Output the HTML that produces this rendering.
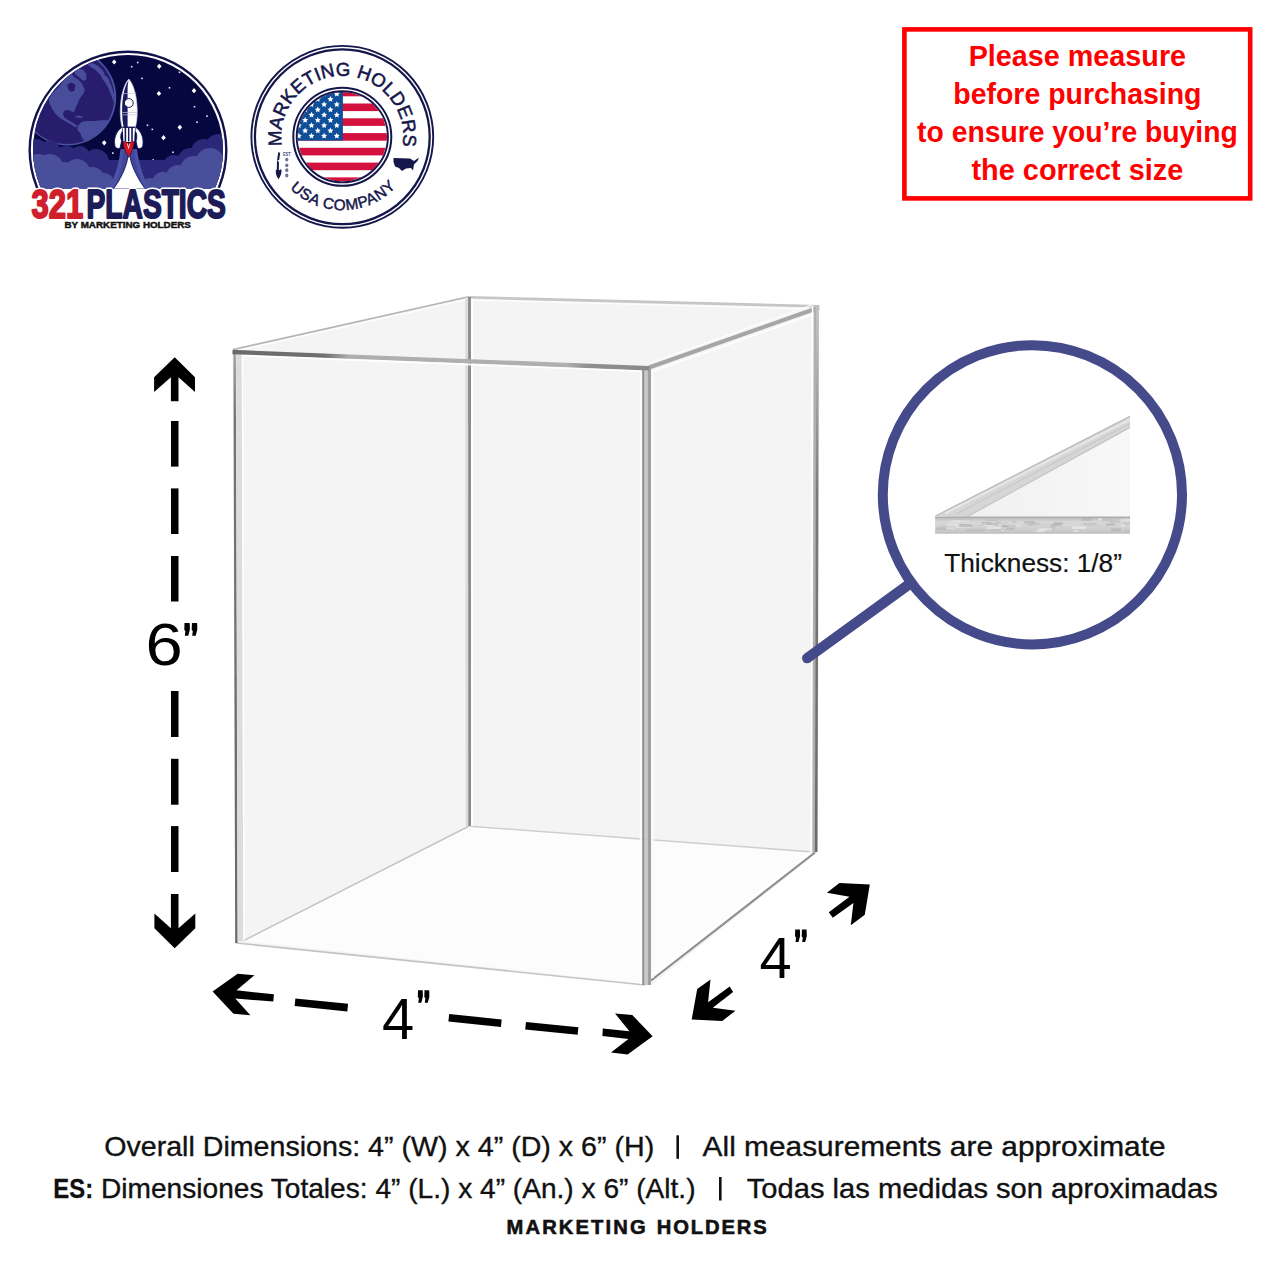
<!DOCTYPE html>
<html><head><meta charset="utf-8"><style>
html,body{margin:0;padding:0;background:#fff;}
body{width:1280px;height:1280px;overflow:hidden;position:relative;font-family:"Liberation Sans",sans-serif;}
svg{position:absolute;left:0;top:0;}
</style></head><body>
<svg width="1280" height="1280" viewBox="0 0 1280 1280">
<rect width="1280" height="1280" fill="#fff"/>
<polygon points="232.5,349.7 467.0,297.0 819.5,306.5 818.0,852.0 651.0,985.0 235.3,943.0" fill="#f4f4f4"/>
<polygon points="243.0,941.0 645.0,984.0 813.0,852.5 468.8,826.5" fill="#fcfcfc"/>
<line x1="243" y1="941" x2="468.8" y2="826.3" stroke="#c6c6c6" stroke-width="1.6"/>
<line x1="244" y1="942.5" x2="469.5" y2="828" stroke="#ffffff" stroke-width="1"/>
<line x1="470" y1="826.2" x2="813" y2="852" stroke="#cfcfcf" stroke-width="1.6"/>
<line x1="470" y1="828" x2="812" y2="854" stroke="#ffffff" stroke-width="1"/>
<line x1="236" y1="943" x2="645" y2="985" stroke="#c4c4c4" stroke-width="1.6"/>
<line x1="651" y1="980.5" x2="815" y2="852.5" stroke="#8e8e8e" stroke-width="2.2"/>
<line x1="650" y1="977.5" x2="812" y2="851" stroke="#ffffff" stroke-width="1.4"/>
<line x1="233" y1="349.5" x2="467.5" y2="297" stroke="#b4b4b4" stroke-width="1.7"/>
<line x1="238" y1="350.5" x2="467.5" y2="299.5" stroke="#ffffff" stroke-width="1.2"/>
<line x1="467" y1="297.3" x2="819.5" y2="306.3" stroke="#c6c6c6" stroke-width="2.6"/>
<line x1="472" y1="300" x2="814" y2="309" stroke="#ffffff" stroke-width="1"/>
<line x1="649" y1="367.5" x2="819" y2="307.5" stroke="#a6a6a6" stroke-width="4"/>
<line x1="652" y1="371.5" x2="814" y2="314" stroke="#ffffff" stroke-width="1.4"/>
<line x1="650" y1="363" x2="812" y2="305" stroke="#ffffff" stroke-width="1.2"/>
<line x1="466.6" y1="299" x2="467.0" y2="826" stroke="#dcdcdc" stroke-width="2.8"/>
<line x1="469.5" y1="297" x2="469.7" y2="826" stroke="#8c8c8c" stroke-width="2.9"/>
<line x1="472" y1="299" x2="472" y2="826" stroke="#ffffff" stroke-width="1.8"/>
<defs><linearGradient id="gbr" x1="0" y1="306" x2="0" y2="852" gradientUnits="userSpaceOnUse"><stop offset="0" stop-color="#c4c4c4"/><stop offset="0.35" stop-color="#7a7a7a"/><stop offset="1" stop-color="#6a6a6a"/></linearGradient></defs>
<line x1="812.6" y1="306" x2="811.3" y2="852" stroke="#ffffff" stroke-width="1.6"/>
<line x1="815.2" y1="307" x2="813.8" y2="852" stroke="#b0b0b0" stroke-width="3"/>
<line x1="817.6" y1="306" x2="816.2" y2="852" stroke="url(#gbr)" stroke-width="2.6"/>
<defs><linearGradient id="gle" x1="0" y1="350" x2="0" y2="943" gradientUnits="userSpaceOnUse"><stop offset="0" stop-color="#a0a0a0"/><stop offset="0.12" stop-color="#747474"/><stop offset="1" stop-color="#6a6a6a"/></linearGradient></defs>
<line x1="234.6" y1="350" x2="236.4" y2="943" stroke="url(#gle)" stroke-width="2.4"/>
<line x1="238.9" y1="353" x2="240.5" y2="941" stroke="#dcdcdc" stroke-width="5.6"/>
<line x1="242.5" y1="354" x2="244" y2="941" stroke="#ffffff" stroke-width="1.4"/>
<line x1="640.8" y1="370" x2="640.8" y2="984" stroke="#ffffff" stroke-width="2"/>
<line x1="643.4" y1="366" x2="643.4" y2="985" stroke="#8c8c8c" stroke-width="2.3"/>
<line x1="646.0" y1="368" x2="646.0" y2="985" stroke="#c8c8c8" stroke-width="3"/>
<line x1="649.3" y1="366" x2="649.3" y2="985" stroke="#a0a0a0" stroke-width="3.4"/>
<line x1="652.6" y1="372" x2="652.6" y2="978" stroke="#fafafa" stroke-width="2.4"/>
<defs><linearGradient id="gtf" x1="232.5" y1="0" x2="649" y2="0" gradientUnits="userSpaceOnUse"><stop offset="0" stop-color="#6a6a6a"/><stop offset="0.22" stop-color="#707070"/><stop offset="0.28" stop-color="#aeaeae"/><stop offset="0.8" stop-color="#b0b0b0"/><stop offset="0.86" stop-color="#8e8e8e"/><stop offset="1" stop-color="#8a8a8a"/></linearGradient></defs>
<line x1="232.5" y1="352" x2="649" y2="368.3" stroke="url(#gtf)" stroke-width="4.4"/>
<line x1="244" y1="355.8" x2="640" y2="371.2" stroke="#ffffff" stroke-width="1.6"/>
<polygon points="174.7,357.2 195.0,377.2 195.0,392.0 178.5,377.2 178.5,401.2 170.9,401.2 170.9,377.2 154.1,392.0 154.1,377.2" fill="#000"/>
<polygon points="174.7,948.3 154.4,928.3 154.4,913.5 170.9,928.3 170.9,894.0 178.5,894.0 178.5,928.3 195.3,913.5 195.3,928.3" fill="#000"/>
<rect x="171" y="421.0" width="7.5" height="45.6" fill="#000"/>
<rect x="171" y="488.4" width="7.5" height="45.6" fill="#000"/>
<rect x="171" y="556.0" width="7.5" height="45.5" fill="#000"/>
<rect x="171" y="691.0" width="7.5" height="46.0" fill="#000"/>
<rect x="171" y="758.8" width="7.5" height="45.9" fill="#000"/>
<rect x="171" y="826.1" width="7.5" height="45.9" fill="#000"/>
<polygon points="212.6,991.5 237.6,973.8 254.4,975.2 236.6,990.3 273.9,994.3 273.3,1001.6 235.3,998.6 250.4,1015.2 233.5,1013.8" fill="#000"/>
<polygon points="652.6,1036.3 632.3,1015.0 615.0,1013.4 629.4,1031.3 602.8,1028.5 602.4,1035.9 628.4,1038.9 611.0,1052.6 627.6,1054.6" fill="#000"/>
<line x1="295.0" y1="1002.2" x2="347.7" y2="1007.6" stroke="#000" stroke-width="7.6"/>
<line x1="448.8" y1="1017.8" x2="501.3" y2="1023.2" stroke="#000" stroke-width="7.6"/>
<line x1="525.6" y1="1025.7" x2="578.0" y2="1031.0" stroke="#000" stroke-width="7.6"/>
<polygon points="869.8,884.5 839.4,883.1 826.9,892.8 849.5,896.7 828.8,912.3 832.8,917.8 853.4,903.0 850.8,925.3 864.8,914.7" fill="#000"/>
<polygon points="691.7,1019.4 697.2,988.9 710.5,979.5 708.1,1002.2 729.7,986.6 733.1,992.0 712.8,1007.7 735.5,1010.8 722.2,1020.9" fill="#000"/>
<g transform="translate(145.6,665) scale(1.12,1)"><text font-family="Liberation Sans, sans-serif" font-size="59.8" fill="#000">6</text></g>
<polygon points="184.5,623.1 189.7,623.1 189.9,629.4 188.3,635.7 184.8,635.7 185.4,630.9 184.3,630.0" fill="#000"/><polygon points="191.9,623.1 197.1,623.1 197.3,629.4 195.7,635.7 192.2,635.7 192.8,630.9 191.7,630.0" fill="#000"/>
<text x="382" y="1038.6" font-family="Liberation Sans, sans-serif" font-size="57.8" fill="#000">4</text>
<polygon points="418.0,990.3 422.7,990.3 422.9,996.5 421.3,1002.8 418.3,1002.8 418.9,998.0 417.8,997.2" fill="#000"/><polygon points="424.5,990.3 429.2,990.3 429.4,996.5 427.8,1002.8 424.8,1002.8 425.4,998.0 424.3,997.2" fill="#000"/>
<text x="759.6" y="977.8" font-family="Liberation Sans, sans-serif" font-size="57.8" fill="#000">4</text>
<polygon points="795.2,929.6 799.9,929.6 800.1,935.9 798.5,942.1 795.5,942.1 796.1,937.4 795.0,936.5" fill="#000"/><polygon points="801.9,929.6 806.6,929.6 806.8,935.9 805.2,942.1 802.2,942.1 802.8,937.4 801.7,936.5" fill="#000"/>
<line x1="807.2" y1="658.1" x2="915" y2="580" stroke="#454a8b" stroke-width="10.4" stroke-linecap="round"/>
<circle cx="1032.4" cy="494.8" r="149.6" fill="#fff" stroke="#454a8b" stroke-width="10"/>
<defs><linearGradient id="gtri" x1="967" y1="0" x2="1130" y2="0" gradientUnits="userSpaceOnUse"><stop offset="0" stop-color="#f0f0f0"/><stop offset="1" stop-color="#f8f8f8"/></linearGradient><linearGradient id="gstrip" x1="0" y1="517" x2="0" y2="533.5" gradientUnits="userSpaceOnUse"><stop offset="0" stop-color="#b8b8b8"/><stop offset="0.3" stop-color="#d8d8d8"/><stop offset="0.7" stop-color="#cfcfcf"/><stop offset="1" stop-color="#c4c4c4"/></linearGradient></defs>
<polygon points="967.0,517.0 1130.0,427.7 1130.0,517.0" fill="url(#gtri)"/>
<polygon points="935.1,516.0 1130.0,415.9 1130.0,427.7 967.0,517.0" fill="#d6d6d6"/>
<line x1="945" y1="513.5" x2="1130" y2="419.5" stroke="#e6e6e6" stroke-width="2"/>
<line x1="955" y1="514.5" x2="1130" y2="423.5" stroke="#c6c6c6" stroke-width="1"/>
<line x1="935.5" y1="516" x2="1130" y2="416.3" stroke="#bdbdbd" stroke-width="1.4"/>
<line x1="967" y1="516.8" x2="1130" y2="427.4" stroke="#c4c4c4" stroke-width="1.2"/>
<rect x="935.1" y="516.7" width="194.9" height="16.8" fill="url(#gstrip)"/>
<rect x="980.7" y="522.3" width="10.2" height="2.0" fill="#a8a8a8" opacity="0.7"/>
<rect x="1045.9" y="529.2" width="8.6" height="2.1" fill="#c0c0c0" opacity="0.7"/>
<rect x="980.0" y="523.1" width="13.0" height="3.0" fill="#ececec" opacity="0.7"/>
<rect x="1011.0" y="520.4" width="4.8" height="2.7" fill="#c0c0c0" opacity="0.7"/>
<rect x="1009.6" y="528.5" width="4.9" height="0.8" fill="#c0c0c0" opacity="0.7"/>
<rect x="943.6" y="527.8" width="6.2" height="2.5" fill="#c0c0c0" opacity="0.7"/>
<rect x="1072.1" y="526.3" width="14.1" height="2.7" fill="#ececec" opacity="0.7"/>
<rect x="1073.8" y="530.0" width="4.6" height="2.1" fill="#e4e4e4" opacity="0.7"/>
<rect x="954.0" y="520.5" width="14.6" height="1.1" fill="#ececec" opacity="0.7"/>
<rect x="1083.5" y="522.7" width="13.0" height="2.7" fill="#c0c0c0" opacity="0.7"/>
<rect x="1002.2" y="525.0" width="13.9" height="2.1" fill="#a8a8a8" opacity="0.7"/>
<rect x="1109.5" y="521.5" width="10.3" height="0.9" fill="#a8a8a8" opacity="0.7"/>
<rect x="966.5" y="529.4" width="13.9" height="2.7" fill="#c0c0c0" opacity="0.7"/>
<rect x="955.3" y="525.6" width="14.9" height="2.2" fill="#e4e4e4" opacity="0.7"/>
<rect x="989.6" y="529.5" width="14.9" height="0.9" fill="#b4b4b4" opacity="0.7"/>
<rect x="1000.9" y="530.1" width="3.2" height="0.9" fill="#ececec" opacity="0.7"/>
<rect x="1081.6" y="518.0" width="10.4" height="2.7" fill="#b4b4b4" opacity="0.7"/>
<rect x="1007.3" y="524.6" width="14.1" height="2.1" fill="#e4e4e4" opacity="0.7"/>
<rect x="1031.5" y="521.2" width="3.9" height="3.0" fill="#c0c0c0" opacity="0.7"/>
<rect x="1037.3" y="529.3" width="6.5" height="2.9" fill="#e4e4e4" opacity="0.7"/>
<rect x="965.2" y="529.7" width="6.8" height="0.9" fill="#bcbcbc" opacity="0.7"/>
<rect x="1105.9" y="523.7" width="9.2" height="1.6" fill="#a8a8a8" opacity="0.7"/>
<rect x="1100.2" y="518.8" width="14.7" height="2.3" fill="#c0c0c0" opacity="0.7"/>
<rect x="987.0" y="526.7" width="14.2" height="2.2" fill="#ececec" opacity="0.7"/>
<rect x="1121.3" y="524.7" width="3.1" height="1.9" fill="#ececec" opacity="0.7"/>
<rect x="1123.1" y="522.6" width="6.9" height="1.5" fill="#bcbcbc" opacity="0.7"/>
<rect x="946.9" y="523.5" width="11.2" height="2.2" fill="#e4e4e4" opacity="0.7"/>
<rect x="1051.2" y="524.2" width="10.1" height="1.4" fill="#a8a8a8" opacity="0.7"/>
<rect x="939.5" y="525.9" width="6.6" height="1.6" fill="#c0c0c0" opacity="0.7"/>
<rect x="996.3" y="521.7" width="7.4" height="1.6" fill="#c0c0c0" opacity="0.7"/>
<rect x="985.7" y="518.8" width="12.8" height="2.5" fill="#c0c0c0" opacity="0.7"/>
<rect x="1065.4" y="524.5" width="10.8" height="1.1" fill="#e4e4e4" opacity="0.7"/>
<rect x="980.9" y="523.5" width="11.4" height="1.2" fill="#b4b4b4" opacity="0.7"/>
<rect x="1049.6" y="525.7" width="5.7" height="2.9" fill="#bcbcbc" opacity="0.7"/>
<rect x="950.7" y="520.2" width="9.8" height="2.4" fill="#e4e4e4" opacity="0.7"/>
<rect x="978.3" y="524.9" width="5.3" height="1.1" fill="#c0c0c0" opacity="0.7"/>
<rect x="970.4" y="528.5" width="10.7" height="1.4" fill="#c0c0c0" opacity="0.7"/>
<rect x="1001.1" y="521.6" width="12.5" height="1.1" fill="#e4e4e4" opacity="0.7"/>
<rect x="1023.8" y="521.2" width="9.8" height="2.2" fill="#b4b4b4" opacity="0.7"/>
<rect x="1110.4" y="517.6" width="14.3" height="1.1" fill="#c0c0c0" opacity="0.7"/>
<rect x="1123.0" y="530.1" width="7.0" height="1.8" fill="#bcbcbc" opacity="0.7"/>
<rect x="941.6" y="527.4" width="12.0" height="1.8" fill="#e4e4e4" opacity="0.7"/>
<rect x="1038.8" y="528.0" width="13.3" height="2.8" fill="#e4e4e4" opacity="0.7"/>
<rect x="958.3" y="518.0" width="12.6" height="1.3" fill="#c0c0c0" opacity="0.7"/>
<rect x="1111.0" y="528.5" width="9.9" height="2.8" fill="#b4b4b4" opacity="0.7"/>
<rect x="1026.9" y="524.5" width="5.9" height="1.1" fill="#b4b4b4" opacity="0.7"/>
<rect x="1035.2" y="530.0" width="10.3" height="1.7" fill="#e4e4e4" opacity="0.7"/>
<rect x="959.3" y="524.0" width="12.7" height="2.9" fill="#b4b4b4" opacity="0.7"/>
<rect x="1002.3" y="524.9" width="12.8" height="1.2" fill="#bcbcbc" opacity="0.7"/>
<rect x="981.0" y="529.6" width="4.5" height="1.4" fill="#b4b4b4" opacity="0.7"/>
<rect x="1028.1" y="522.7" width="12.1" height="2.1" fill="#bcbcbc" opacity="0.7"/>
<rect x="986.5" y="523.0" width="8.7" height="2.0" fill="#b4b4b4" opacity="0.7"/>
<rect x="1098.3" y="518.1" width="3.6" height="2.5" fill="#ececec" opacity="0.7"/>
<rect x="1120.7" y="518.6" width="9.0" height="2.7" fill="#e4e4e4" opacity="0.7"/>
<rect x="965.3" y="522.9" width="7.7" height="1.0" fill="#e4e4e4" opacity="0.7"/>
<rect x="1004.1" y="522.0" width="4.5" height="1.2" fill="#c0c0c0" opacity="0.7"/>
<rect x="936.2" y="527.5" width="9.8" height="2.4" fill="#b4b4b4" opacity="0.7"/>
<rect x="1006.4" y="527.6" width="7.6" height="2.1" fill="#b4b4b4" opacity="0.7"/>
<rect x="1053.9" y="522.4" width="9.0" height="1.7" fill="#a8a8a8" opacity="0.7"/>
<rect x="995.3" y="522.6" width="3.2" height="2.9" fill="#bcbcbc" opacity="0.7"/>
<line x1="935.1" y1="517.2" x2="1130" y2="517.2" stroke="#a9a9a9" stroke-width="1"/>
<line x1="935.1" y1="533" x2="1130" y2="533" stroke="#bdbdbd" stroke-width="1"/>
<text x="944.3" y="571.6" font-family="Liberation Sans, sans-serif" font-size="25" fill="#111" stroke="#111" stroke-width="0.2" textLength="177.6" lengthAdjust="spacingAndGlyphs">Thickness: 1/8&#8221;</text>
<rect x="904.4" y="29.4" width="345.8" height="169" fill="none" stroke="#ff0000" stroke-width="4.6"/>
<text x="1077.4" y="65.5" font-family="Liberation Sans, sans-serif" font-weight="bold" font-size="29" fill="#ff0000" text-anchor="middle" textLength="217.4" lengthAdjust="spacingAndGlyphs">Please measure</text>
<text x="1077.4" y="103.5" font-family="Liberation Sans, sans-serif" font-weight="bold" font-size="29" fill="#ff0000" text-anchor="middle" textLength="248.2" lengthAdjust="spacingAndGlyphs">before purchasing</text>
<text x="1077.4" y="142.1" font-family="Liberation Sans, sans-serif" font-weight="bold" font-size="29" fill="#ff0000" text-anchor="middle" textLength="320.6" lengthAdjust="spacingAndGlyphs">to ensure you&#8217;re buying</text>
<text x="1077.4" y="180.3" font-family="Liberation Sans, sans-serif" font-weight="bold" font-size="29" fill="#ff0000" text-anchor="middle" textLength="211.8" lengthAdjust="spacingAndGlyphs">the correct size</text>
<text x="104.2" y="1156" font-family="Liberation Sans, sans-serif" font-size="27.6" fill="#111" stroke="#111" stroke-width="0.35" lengthAdjust="spacingAndGlyphs" textLength="550">Overall Dimensions: 4&#8221; (W) x 4&#8221; (D) x 6&#8221; (H)</text>
<rect x="676.4" y="1135.3" width="2.6" height="23.5" fill="#111"/>
<text x="702.6" y="1156" font-family="Liberation Sans, sans-serif" font-size="27.6" fill="#111" stroke="#111" stroke-width="0.35" lengthAdjust="spacingAndGlyphs" textLength="463">All measurements are approximate</text>
<text x="53.3" y="1197.6" font-family="Liberation Sans, sans-serif" font-size="27.6" font-weight="bold" fill="#111" stroke="#111" stroke-width="0.3" textLength="39.8" lengthAdjust="spacingAndGlyphs">ES:</text>
<text x="101" y="1197.6" font-family="Liberation Sans, sans-serif" font-size="27.6" fill="#111" stroke="#111" stroke-width="0.35" lengthAdjust="spacingAndGlyphs" textLength="594.5">Dimensiones Totales: 4&#8221; (L.) x 4&#8221; (An.) x 6&#8221; (Alt.)</text>
<rect x="719" y="1177" width="2.6" height="23.5" fill="#111"/>
<text x="746.8" y="1197.6" font-family="Liberation Sans, sans-serif" font-size="27.6" fill="#111" stroke="#111" stroke-width="0.35" lengthAdjust="spacingAndGlyphs" textLength="471">Todas las medidas son aproximadas</text>
<text x="506.6" y="1234" font-family="Liberation Sans, sans-serif" font-size="20.2" font-weight="bold" fill="#111" stroke="#111" stroke-width="0.6" textLength="139" lengthAdjust="spacing">MARKETING</text>
<text x="656.8" y="1234" font-family="Liberation Sans, sans-serif" font-size="20.2" font-weight="bold" fill="#111" stroke="#111" stroke-width="0.6" textLength="110" lengthAdjust="spacing">HOLDERS</text>
<defs><clipPath id="l1c"><circle cx="128" cy="150" r="95"/></clipPath>
<clipPath id="l1cut"><rect x="0" y="0" width="240" height="188.5"/></clipPath></defs>
<g clip-path="url(#l1cut)">
<circle cx="128" cy="150" r="98.3" fill="none" stroke="#12124a" stroke-width="2.4"/>
<circle cx="128" cy="150" r="95" fill="#070740"/>
<g clip-path="url(#l1c)">
<circle cx="67.8" cy="97.1" r="48.4" fill="#4c55a2"/>
<circle cx="67.4" cy="97.0" r="47" fill="#271d6c"/>
<defs><clipPath id="earthc"><circle cx="67.6" cy="97.2" r="47"/></clipPath></defs><g clip-path="url(#earthc)">
<polygon points="48.9,98.8 52.3,93.6 58.2,87.6 64.1,79.5 68.6,75.0 71.5,73.5 74.5,77.3 78.2,79.5 81.9,83.2 83.4,86.9 84.9,89.9 83.4,93.6 81.2,96.5 79.0,100.3 77.5,104.0 75.3,108.4 74.5,111.4 72.3,112.1 68.6,109.9 64.9,110.6 63.0,113.6 64.1,117.3 68.6,120.3 73.8,123.2 77.5,126.2 75.3,127.3 70.1,124.0 64.9,121.0 59.7,118.1 55.2,113.6 51.5,107.7 49.3,103.2" fill="#474d9a"/>
<polygon points="67.1,84.7 71.5,82.4 75.3,84.7 74.5,90.6 71.5,92.1 68.6,89.9" fill="#271d6c"/>
<polygon points="73.8,70.6 77.5,68.7 83.4,69.8 86.4,74.3 86.4,79.5 83.4,81.0 79.0,77.3 75.3,74.3" fill="#474d9a"/>
<polygon points="77.5,126.2 81.9,121.8 87.9,121.0 95.3,121.0 101.2,120.3 107.2,120.3 111.6,121.0 108.6,129.2 96.8,138.1 85.6,142.5 81.9,138.1 80.4,133.6 77.5,129.9" fill="#474d9a"/>
<polygon points="74.5,116.2 79.0,115.5 83.4,116.9 81.9,118.1 77.5,117.7" fill="#474d9a"/>
<polygon points="86.4,63.2 93.1,63.2 98.2,66.1 102.7,70.6 106.4,75.8 108.6,79.5 111.6,86.2 113.8,93.6 115.3,101.0 113.8,102.5 111.6,96.5 108.6,88.4 105.7,83.2 102.7,79.5 100.5,75.0 95.3,69.8 89.3,66.1" fill="#474d9a"/>
<polygon points="103.4,71.3 106.4,73.5 107.2,76.5 104.9,75.8" fill="#271d6c"/>
</g>
<path d="M114.2,59.4 l2.3,2.6 l-2.3,2.6 l-2.3,-2.6 Z" fill="#fff"/>
<path d="M159.2,63.7 l2.3,2.6 l-2.3,2.6 l-2.3,-2.6 Z" fill="#fff"/>
<path d="M158.9,90.9 l2.3,2.6 l-2.3,2.6 l-2.3,-2.6 Z" fill="#fff"/>
<path d="M194,88.1 l2.3,2.6 l-2.3,2.6 l-2.3,-2.6 Z" fill="#fff"/>
<path d="M179.8,124.7 l2.3,2.6 l-2.3,2.6 l-2.3,-2.6 Z" fill="#fff"/>
<path d="M163.5,135.1 l2.3,2.6 l-2.3,2.6 l-2.3,-2.6 Z" fill="#fff"/>
<path d="M104.2,140.2 l2.3,2.6 l-2.3,2.6 l-2.3,-2.6 Z" fill="#fff"/>
<rect x="130.9" y="65.9" width="1.6" height="1.6" fill="#e8e8f4"/>
<rect x="136.9" y="61.7" width="1.6" height="1.6" fill="#e8e8f4"/>
<rect x="141.2" y="77.6" width="1.6" height="1.6" fill="#e8e8f4"/>
<rect x="178.7" y="71.5" width="1.6" height="1.6" fill="#e8e8f4"/>
<rect x="168.7" y="87" width="1.6" height="1.6" fill="#e8e8f4"/>
<rect x="193.7" y="105.9" width="1.6" height="1.6" fill="#e8e8f4"/>
<rect x="206.2" y="115.4" width="1.6" height="1.6" fill="#e8e8f4"/>
<rect x="196.2" y="121.4" width="1.6" height="1.6" fill="#e8e8f4"/>
<rect x="146.7" y="124.5" width="1.6" height="1.6" fill="#e8e8f4"/>
<rect x="151.5" y="128.6" width="1.6" height="1.6" fill="#e8e8f4"/>
<rect x="197.1" y="141.5" width="1.6" height="1.6" fill="#e8e8f4"/>
<rect x="172.2" y="151.5" width="1.6" height="1.6" fill="#e8e8f4"/>
<rect x="152.4" y="159.2" width="1.6" height="1.6" fill="#e8e8f4"/>
<rect x="112" y="152.3" width="1.6" height="1.6" fill="#e8e8f4"/>
<rect x="81.9" y="153.2" width="1.6" height="1.6" fill="#e8e8f4"/>
<circle cx="36" cy="152" r="13" fill="#2b287a"/>
<circle cx="50" cy="150" r="10" fill="#2b287a"/>
<circle cx="66" cy="160" r="14" fill="#2b287a"/>
<circle cx="80" cy="156" r="10" fill="#2b287a"/>
<circle cx="96" cy="162" r="13" fill="#2b287a"/>
<circle cx="108" cy="170" r="10" fill="#2b287a"/>
<circle cx="148" cy="178" r="10" fill="#2b287a"/>
<circle cx="160" cy="170" r="10" fill="#2b287a"/>
<circle cx="174" cy="166" r="11" fill="#2b287a"/>
<circle cx="190" cy="160" r="12" fill="#2b287a"/>
<circle cx="204" cy="152" r="13" fill="#2b287a"/>
<circle cx="218" cy="146" r="12" fill="#2b287a"/>
<circle cx="225" cy="160" r="14" fill="#2b287a"/>
<rect x="28" y="160" width="200" height="30" fill="#2b287a"/>
<circle cx="212" cy="182" r="11" fill="#4a4f9c"/>
<circle cx="60" cy="186" r="10" fill="#4a4f9c"/>
<circle cx="48" cy="184" r="9" fill="#4a4f9c"/>
<circle cx="120" cy="188" r="6" fill="#4a4f9c"/>
<circle cx="38" cy="170" r="16" fill="#4a4f9c"/>
<circle cx="50" cy="167" r="13" fill="#4a4f9c"/>
<circle cx="64" cy="176" r="14" fill="#4a4f9c"/>
<circle cx="77" cy="172" r="13" fill="#4a4f9c"/>
<circle cx="92" cy="180" r="13" fill="#4a4f9c"/>
<circle cx="104" cy="183" r="10" fill="#4a4f9c"/>
<circle cx="150" cy="190" r="12" fill="#4a4f9c"/>
<circle cx="163" cy="183" r="11" fill="#4a4f9c"/>
<circle cx="178" cy="177" r="12" fill="#4a4f9c"/>
<circle cx="194" cy="170" r="14" fill="#4a4f9c"/>
<circle cx="210" cy="162" r="14" fill="#4a4f9c"/>
<circle cx="224" cy="168" r="12" fill="#4a4f9c"/>
<rect x="28" y="182" width="200" height="10" fill="#4a4f9c"/>
<path d="M120.5,149 C119,165 114,178 108.5,190 L149.5,190 C144,178 139,165 137,149 Z" fill="#4b52a5"/>
<path d="M123.5,150 C122.5,164 119,176 114.5,190 L144,190 C139.5,176 135,164 134,150 Z" fill="#3f469c"/>
<path d="M128,156.5 C126.5,167 120.5,180 112.5,190 L146,190 C138.5,180 131.5,167 130,156.5 Z" fill="#ffffff"/>
<path d="M128,156.5 C126.5,167 120.5,180 112.5,190 M146,190 C138.5,180 131.5,167 130,156.5" fill="none" stroke="#0d0d48" stroke-width="0.8"/>
<path d="M122.3,127 C116.3,131 113.6,138 114.8,145.5 C115.6,148.6 118.6,149.3 120.2,147.6 L121.6,141 C120.2,138 120.6,133 122.6,131 Z" fill="#fff" stroke="#1a1a60" stroke-width="0.9"/>
<path d="M135.3,127 C141.3,131 144,138 142.8,145.5 C142,148.6 139,149.3 137.4,147.6 L136,141 C137.4,138 137,133 135,131 Z" fill="#fff" stroke="#1a1a60" stroke-width="0.9"/>
<path d="M128.8,79 C123.5,85 120.5,97 120.3,110 C120.2,118 121,124 122.5,128 L135,128 C136.5,124 137.3,118 137.2,110 C137,97 134,85 128.8,79 Z" fill="#fff" stroke="#c8c8dc" stroke-width="0.7"/>
<path d="M128.6,80.5 C124.6,86 122.2,97 122.1,110 C122.1,118 122.8,124 124,127.5 L127.6,127.5 L127.6,90 C127.6,86 128,83 128.6,80.5 Z" fill="#1a1a60"/>
<circle cx="128.8" cy="103" r="4.4" fill="#fff" stroke="#1a1a60" stroke-width="1"/>
<rect x="122.5" y="112" width="14" height="0.7" fill="#c0c0d8"/><rect x="122.5" y="114.5" width="14" height="0.7" fill="#c0c0d8"/>
<rect x="122.2" y="93" width="14" height="0.6" fill="#c0c0d8"/>
<path d="M122.6,127.5 L135,127.5 L134.2,142 L123.4,142 Z" fill="#fff"/>
<rect x="124.6" y="128" width="1.6" height="13.5" fill="#1a1a60"/><rect x="128" y="128" width="1.4" height="13.5" fill="#1a1a60"/><rect x="131.2" y="128" width="1.6" height="13.5" fill="#1a1a60"/>
<rect x="122.3" y="126.6" width="13" height="1.4" fill="#1a1a60"/>
<path d="M122.8,141.8 C124.5,141.2 126.5,141.6 128.6,143.6 C130.7,141.6 132.7,141.2 134.4,141.8 C134,147 131.5,152.5 128.6,157.3 C125.7,152.5 123.2,147 122.8,141.8 Z" fill="#d6141f" stroke="#0d0d48" stroke-width="0.6"/>
<path d="M126.8,143.5 L128.6,149.5 L130.4,143.5 L129.6,143.5 L128.6,146.5 L127.6,143.5 Z" fill="#ffd0d8"/>
</g>
</g>
<g font-weight="bold" font-family="Liberation Sans, sans-serif">
<text x="31.5" y="217.8" font-size="40.5" fill="#fff" stroke="#fff" stroke-width="5" stroke-linejoin="round" textLength="51.6" lengthAdjust="spacingAndGlyphs">321</text>
<text x="86.6" y="217.8" font-size="40.5" fill="#fff" stroke="#fff" stroke-width="5" stroke-linejoin="round" textLength="139.2" lengthAdjust="spacingAndGlyphs">PLASTICS</text>
<text x="31.5" y="217.8" font-size="40.5" fill="#cf1f2c" stroke="#cf1f2c" stroke-width="2" stroke-linejoin="round" textLength="51.6" lengthAdjust="spacingAndGlyphs">321</text>
<text x="86.6" y="217.8" font-size="40.5" fill="#1c1c58" stroke="#1c1c58" stroke-width="2" stroke-linejoin="round" textLength="139.2" lengthAdjust="spacingAndGlyphs">PLASTICS</text>
<text x="64.5" y="227.6" font-size="8.8" fill="#111" stroke="#111" stroke-width="0.45" textLength="126.4" lengthAdjust="spacingAndGlyphs">BY MARKETING HOLDERS</text>
</g>
<circle cx="342.3" cy="136.8" r="90.9" fill="#fff" stroke="#15164a" stroke-width="1.9"/>
<circle cx="342.3" cy="136.8" r="87.4" fill="none" stroke="#15164a" stroke-width="2.3"/>
<defs><clipPath id="fl"><circle cx="342.3" cy="136.8" r="44.7"/></clipPath></defs>
<g clip-path="url(#fl)">
<rect x="290" y="85" width="110" height="110" fill="#fff"/>
<rect x="290" y="73.9" width="110" height="7.6" fill="#d4103f"/>
<rect x="290" y="88.7" width="110" height="7.6" fill="#d4103f"/>
<rect x="290" y="103.5" width="110" height="7.6" fill="#d4103f"/>
<rect x="290" y="118.3" width="110" height="7.6" fill="#d4103f"/>
<rect x="290" y="133.1" width="110" height="7.6" fill="#d4103f"/>
<rect x="290" y="147.8" width="110" height="7.6" fill="#d4103f"/>
<rect x="290" y="162.6" width="110" height="7.6" fill="#d4103f"/>
<rect x="290" y="177.4" width="110" height="7.6" fill="#d4103f"/>
<rect x="290" y="192.2" width="110" height="7.6" fill="#d4103f"/>
<rect x="290" y="80" width="52.9" height="60.6" fill="#0f4f99"/>
<polygon points="336.80,132.80 337.71,134.65 339.75,134.94 338.27,136.38 338.62,138.41 336.80,137.45 334.98,138.41 335.33,136.38 333.85,134.94 335.89,134.65" fill="#fff"/>
<polygon points="324.14,132.80 325.05,134.65 327.09,134.94 325.61,136.38 325.96,138.41 324.14,137.45 322.32,138.41 322.67,136.38 321.19,134.94 323.23,134.65" fill="#fff"/>
<polygon points="311.48,132.80 312.39,134.65 314.43,134.94 312.95,136.38 313.30,138.41 311.48,137.45 309.66,138.41 310.01,136.38 308.53,134.94 310.57,134.65" fill="#fff"/>
<polygon points="298.82,132.80 299.73,134.65 301.77,134.94 300.29,136.38 300.64,138.41 298.82,137.45 297.00,138.41 297.35,136.38 295.87,134.94 297.91,134.65" fill="#fff"/>
<polygon points="286.16,132.80 287.07,134.65 289.11,134.94 287.63,136.38 287.98,138.41 286.16,137.45 284.34,138.41 284.69,136.38 283.21,134.94 285.25,134.65" fill="#fff"/>
<polygon points="330.45,127.55 331.36,129.40 333.40,129.69 331.92,131.13 332.27,133.16 330.45,132.20 328.63,133.16 328.98,131.13 327.50,129.69 329.54,129.40" fill="#fff"/>
<polygon points="317.79,127.55 318.70,129.40 320.74,129.69 319.26,131.13 319.61,133.16 317.79,132.20 315.97,133.16 316.32,131.13 314.84,129.69 316.88,129.40" fill="#fff"/>
<polygon points="305.13,127.55 306.04,129.40 308.08,129.69 306.60,131.13 306.95,133.16 305.13,132.20 303.31,133.16 303.66,131.13 302.18,129.69 304.22,129.40" fill="#fff"/>
<polygon points="292.47,127.55 293.38,129.40 295.42,129.69 293.94,131.13 294.29,133.16 292.47,132.20 290.65,133.16 291.00,131.13 289.52,129.69 291.56,129.40" fill="#fff"/>
<polygon points="279.81,127.55 280.72,129.40 282.76,129.69 281.28,131.13 281.63,133.16 279.81,132.20 277.99,133.16 278.34,131.13 276.86,129.69 278.90,129.40" fill="#fff"/>
<polygon points="336.80,122.30 337.71,124.15 339.75,124.44 338.27,125.88 338.62,127.91 336.80,126.95 334.98,127.91 335.33,125.88 333.85,124.44 335.89,124.15" fill="#fff"/>
<polygon points="324.14,122.30 325.05,124.15 327.09,124.44 325.61,125.88 325.96,127.91 324.14,126.95 322.32,127.91 322.67,125.88 321.19,124.44 323.23,124.15" fill="#fff"/>
<polygon points="311.48,122.30 312.39,124.15 314.43,124.44 312.95,125.88 313.30,127.91 311.48,126.95 309.66,127.91 310.01,125.88 308.53,124.44 310.57,124.15" fill="#fff"/>
<polygon points="298.82,122.30 299.73,124.15 301.77,124.44 300.29,125.88 300.64,127.91 298.82,126.95 297.00,127.91 297.35,125.88 295.87,124.44 297.91,124.15" fill="#fff"/>
<polygon points="286.16,122.30 287.07,124.15 289.11,124.44 287.63,125.88 287.98,127.91 286.16,126.95 284.34,127.91 284.69,125.88 283.21,124.44 285.25,124.15" fill="#fff"/>
<polygon points="330.45,117.05 331.36,118.90 333.40,119.19 331.92,120.63 332.27,122.66 330.45,121.70 328.63,122.66 328.98,120.63 327.50,119.19 329.54,118.90" fill="#fff"/>
<polygon points="317.79,117.05 318.70,118.90 320.74,119.19 319.26,120.63 319.61,122.66 317.79,121.70 315.97,122.66 316.32,120.63 314.84,119.19 316.88,118.90" fill="#fff"/>
<polygon points="305.13,117.05 306.04,118.90 308.08,119.19 306.60,120.63 306.95,122.66 305.13,121.70 303.31,122.66 303.66,120.63 302.18,119.19 304.22,118.90" fill="#fff"/>
<polygon points="292.47,117.05 293.38,118.90 295.42,119.19 293.94,120.63 294.29,122.66 292.47,121.70 290.65,122.66 291.00,120.63 289.52,119.19 291.56,118.90" fill="#fff"/>
<polygon points="279.81,117.05 280.72,118.90 282.76,119.19 281.28,120.63 281.63,122.66 279.81,121.70 277.99,122.66 278.34,120.63 276.86,119.19 278.90,118.90" fill="#fff"/>
<polygon points="336.80,111.80 337.71,113.65 339.75,113.94 338.27,115.38 338.62,117.41 336.80,116.45 334.98,117.41 335.33,115.38 333.85,113.94 335.89,113.65" fill="#fff"/>
<polygon points="324.14,111.80 325.05,113.65 327.09,113.94 325.61,115.38 325.96,117.41 324.14,116.45 322.32,117.41 322.67,115.38 321.19,113.94 323.23,113.65" fill="#fff"/>
<polygon points="311.48,111.80 312.39,113.65 314.43,113.94 312.95,115.38 313.30,117.41 311.48,116.45 309.66,117.41 310.01,115.38 308.53,113.94 310.57,113.65" fill="#fff"/>
<polygon points="298.82,111.80 299.73,113.65 301.77,113.94 300.29,115.38 300.64,117.41 298.82,116.45 297.00,117.41 297.35,115.38 295.87,113.94 297.91,113.65" fill="#fff"/>
<polygon points="286.16,111.80 287.07,113.65 289.11,113.94 287.63,115.38 287.98,117.41 286.16,116.45 284.34,117.41 284.69,115.38 283.21,113.94 285.25,113.65" fill="#fff"/>
<polygon points="330.45,106.55 331.36,108.40 333.40,108.69 331.92,110.13 332.27,112.16 330.45,111.20 328.63,112.16 328.98,110.13 327.50,108.69 329.54,108.40" fill="#fff"/>
<polygon points="317.79,106.55 318.70,108.40 320.74,108.69 319.26,110.13 319.61,112.16 317.79,111.20 315.97,112.16 316.32,110.13 314.84,108.69 316.88,108.40" fill="#fff"/>
<polygon points="305.13,106.55 306.04,108.40 308.08,108.69 306.60,110.13 306.95,112.16 305.13,111.20 303.31,112.16 303.66,110.13 302.18,108.69 304.22,108.40" fill="#fff"/>
<polygon points="292.47,106.55 293.38,108.40 295.42,108.69 293.94,110.13 294.29,112.16 292.47,111.20 290.65,112.16 291.00,110.13 289.52,108.69 291.56,108.40" fill="#fff"/>
<polygon points="279.81,106.55 280.72,108.40 282.76,108.69 281.28,110.13 281.63,112.16 279.81,111.20 277.99,112.16 278.34,110.13 276.86,108.69 278.90,108.40" fill="#fff"/>
<polygon points="336.80,101.30 337.71,103.15 339.75,103.44 338.27,104.88 338.62,106.91 336.80,105.95 334.98,106.91 335.33,104.88 333.85,103.44 335.89,103.15" fill="#fff"/>
<polygon points="324.14,101.30 325.05,103.15 327.09,103.44 325.61,104.88 325.96,106.91 324.14,105.95 322.32,106.91 322.67,104.88 321.19,103.44 323.23,103.15" fill="#fff"/>
<polygon points="311.48,101.30 312.39,103.15 314.43,103.44 312.95,104.88 313.30,106.91 311.48,105.95 309.66,106.91 310.01,104.88 308.53,103.44 310.57,103.15" fill="#fff"/>
<polygon points="298.82,101.30 299.73,103.15 301.77,103.44 300.29,104.88 300.64,106.91 298.82,105.95 297.00,106.91 297.35,104.88 295.87,103.44 297.91,103.15" fill="#fff"/>
<polygon points="286.16,101.30 287.07,103.15 289.11,103.44 287.63,104.88 287.98,106.91 286.16,105.95 284.34,106.91 284.69,104.88 283.21,103.44 285.25,103.15" fill="#fff"/>
<polygon points="330.45,96.05 331.36,97.90 333.40,98.19 331.92,99.63 332.27,101.66 330.45,100.70 328.63,101.66 328.98,99.63 327.50,98.19 329.54,97.90" fill="#fff"/>
<polygon points="317.79,96.05 318.70,97.90 320.74,98.19 319.26,99.63 319.61,101.66 317.79,100.70 315.97,101.66 316.32,99.63 314.84,98.19 316.88,97.90" fill="#fff"/>
<polygon points="305.13,96.05 306.04,97.90 308.08,98.19 306.60,99.63 306.95,101.66 305.13,100.70 303.31,101.66 303.66,99.63 302.18,98.19 304.22,97.90" fill="#fff"/>
<polygon points="292.47,96.05 293.38,97.90 295.42,98.19 293.94,99.63 294.29,101.66 292.47,100.70 290.65,101.66 291.00,99.63 289.52,98.19 291.56,97.90" fill="#fff"/>
<polygon points="279.81,96.05 280.72,97.90 282.76,98.19 281.28,99.63 281.63,101.66 279.81,100.70 277.99,101.66 278.34,99.63 276.86,98.19 278.90,97.90" fill="#fff"/>
<polygon points="336.80,90.80 337.71,92.65 339.75,92.94 338.27,94.38 338.62,96.41 336.80,95.45 334.98,96.41 335.33,94.38 333.85,92.94 335.89,92.65" fill="#fff"/>
<polygon points="324.14,90.80 325.05,92.65 327.09,92.94 325.61,94.38 325.96,96.41 324.14,95.45 322.32,96.41 322.67,94.38 321.19,92.94 323.23,92.65" fill="#fff"/>
<polygon points="311.48,90.80 312.39,92.65 314.43,92.94 312.95,94.38 313.30,96.41 311.48,95.45 309.66,96.41 310.01,94.38 308.53,92.94 310.57,92.65" fill="#fff"/>
<polygon points="298.82,90.80 299.73,92.65 301.77,92.94 300.29,94.38 300.64,96.41 298.82,95.45 297.00,96.41 297.35,94.38 295.87,92.94 297.91,92.65" fill="#fff"/>
<polygon points="286.16,90.80 287.07,92.65 289.11,92.94 287.63,94.38 287.98,96.41 286.16,95.45 284.34,96.41 284.69,94.38 283.21,92.94 285.25,92.65" fill="#fff"/>
<polygon points="330.45,85.55 331.36,87.40 333.40,87.69 331.92,89.13 332.27,91.16 330.45,90.20 328.63,91.16 328.98,89.13 327.50,87.69 329.54,87.40" fill="#fff"/>
<polygon points="317.79,85.55 318.70,87.40 320.74,87.69 319.26,89.13 319.61,91.16 317.79,90.20 315.97,91.16 316.32,89.13 314.84,87.69 316.88,87.40" fill="#fff"/>
<polygon points="305.13,85.55 306.04,87.40 308.08,87.69 306.60,89.13 306.95,91.16 305.13,90.20 303.31,91.16 303.66,89.13 302.18,87.69 304.22,87.40" fill="#fff"/>
<polygon points="292.47,85.55 293.38,87.40 295.42,87.69 293.94,89.13 294.29,91.16 292.47,90.20 290.65,91.16 291.00,89.13 289.52,87.69 291.56,87.40" fill="#fff"/>
<polygon points="279.81,85.55 280.72,87.40 282.76,87.69 281.28,89.13 281.63,91.16 279.81,90.20 277.99,91.16 278.34,89.13 276.86,87.69 278.90,87.40" fill="#fff"/>
</g>
<circle cx="342.3" cy="136.8" r="49" fill="none" stroke="#15164a" stroke-width="2"/>
<circle cx="342.3" cy="136.8" r="45.6" fill="none" stroke="#15164a" stroke-width="1.9"/>
<defs><path id="arcT" d="M283.38,152.59 A61,61 0 1 1 401.22,152.59" fill="none"/><path id="arcB" d="M286.07,183.98 A73.4,73.4 0 0 0 398.53,183.98" fill="none"/></defs>
<text font-family="Liberation Sans, sans-serif" font-size="18.6" fill="#15164a" stroke="#15164a" stroke-width="0.55"><textPath href="#arcT" startOffset="6.7" textLength="210.1" lengthAdjust="spacing">MARKETING HOLDERS</textPath></text>
<text font-family="Liberation Sans, sans-serif" font-size="15.4" fill="#15164a" stroke="#15164a" stroke-width="0.45"><textPath href="#arcB" startOffset="5.9" textLength="117.9" lengthAdjust="spacing">USA COMPANY</textPath></text>
<path d="M393.5,158 L410,158.5 L414,161 L419,157.5 L417.5,161 L414,164.5 L413,170.5 L411,168 L406,168.5 L402,171 L399,168 L395,166.5 L393.5,162 Z" fill="#15164a"/>
<path d="M279.2,152.5 C278,158 277.6,165 277.8,171" fill="none" stroke="#15164a" stroke-width="2"/>
<path d="M276.2,169.5 C275,173 276.8,177 278.6,179.2 C280.2,176.5 282.3,173 281.2,169 C279.8,170.5 277.8,170.5 276.2,169.5 Z" fill="#15164a"/>
<circle cx="278.4" cy="160.8" r="0.9" fill="#fff"/>
<text x="282.9" y="156.1" font-family="Liberation Sans, sans-serif" font-size="4.6" font-weight="bold" fill="#4a4e7c" textLength="7.7" lengthAdjust="spacingAndGlyphs">EST</text>
<ellipse cx="286.8" cy="159.6" rx="1.6" ry="1.9" fill="#6e7298"/>
<ellipse cx="286.8" cy="165.3" rx="1.6" ry="1.9" fill="#6e7298"/>
<ellipse cx="286.8" cy="170.2" rx="1.6" ry="1.9" fill="#6e7298"/>
<ellipse cx="286.8" cy="175.5" rx="1.6" ry="1.9" fill="#6e7298"/>
</svg>
</body></html>
